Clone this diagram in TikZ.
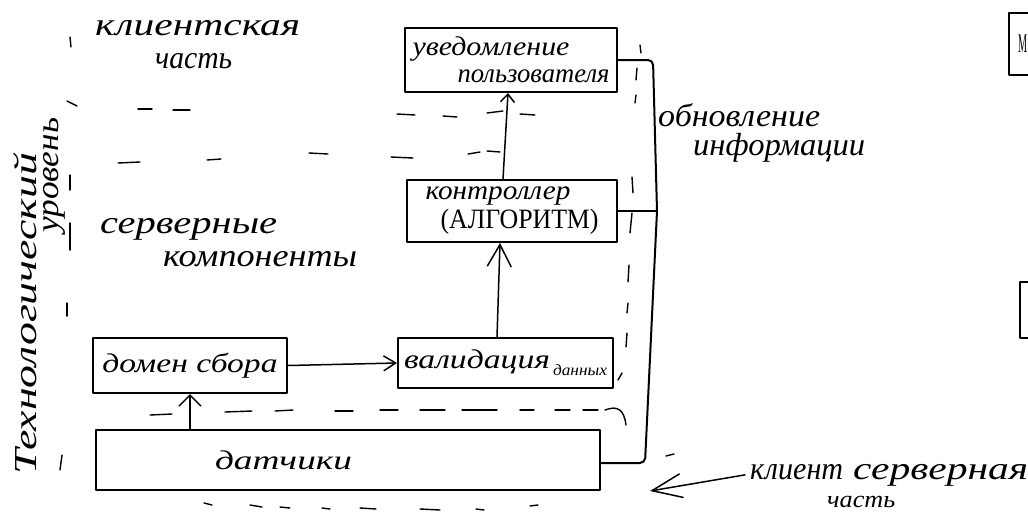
\documentclass[tikz,border=0pt]{standalone}
\usepackage{fontspec}
\setmainfont{Liberation Serif}
\usepackage{graphicx}
\usetikzlibrary{arrows.meta}
% stretch a word horizontally to a given width, keeping its height
\newcommand\hwtext[2]{\resizebox{#1}{\height}{#2}}
\tikzset{
  ink/.style={line width=1.5pt, line cap=round, line join=round},
  blk/.style={draw, line width=2pt, line join=round, inner sep=0pt,
              font=\itshape\fontsize{27}{27}\selectfont},
  hand/.style={inner sep=0pt, font=\itshape\fontsize{32}{32}\selectfont},
  arr/.style 2 args={ink, -{Straight Barb[length=#1, width=#2]}},
  dsh/.style={ink, line width=1.4pt},
  wire/.style={draw, line width=2pt, line join=round, rounded corners=5pt},
}
\begin{document}
\begin{tikzpicture}[x=1pt, y=-1pt]
\useasboundingbox (0,0) rectangle (1028,515);
\clip (0,0) rectangle (1028,515);

% ---- layer separators (hand-drawn dashes) ----
% client / server boundary
\draw[dsh] (67,101) .. controls (71,103) .. (77,106);
\draw[dsh] (138,109) -- (152,109);
\draw[dsh] (173,110) -- (190,110);
\draw[dsh] (397,114) -- (415,115);
\draw[dsh] (443,116) -- (457,117);
\draw[dsh] (487,113) -- (503,111);
\draw[dsh] (520,114) -- (535,115);
\draw[dsh] (118,163) -- (140,162);
\draw[dsh] (207,160) -- (221,159);
\draw[dsh] (309,153) -- (328,154);
\draw[dsh] (391,157) -- (413,158);
\draw[dsh] (468,154) -- (480,152);
\draw[dsh] (487,151) -- (500,152);
% server / hardware boundary
\draw[dsh] (150,415) -- (172,414);
\draw[dsh] (225,412) -- (252,411);
\draw[dsh] (275,411) -- (293,410);
\draw[dsh] (335,411) -- (353,411);
\draw[dsh] (380,410) -- (398,410);
\draw[dsh] (420,410) -- (445,410);
\draw[dsh] (462,410) -- (497,410);
\draw[dsh] (520,410) -- (534,410);
\draw[dsh] (555,410) -- (570,410);
\draw[dsh] (583,410) -- (598,410);
\draw[dsh] (605,410) .. controls (618,405) and (624,410) .. (626,425);
% bottom edge
\draw[dsh] (204,503) -- (212,505);
\draw[dsh] (250,505) -- (262,507);
\draw[dsh] (280,507) -- (290,508);
\draw[dsh] (322,508) -- (330,509);
\draw[dsh] (360,508) -- (376,509);
\draw[dsh] (420,509) -- (440,510);
\draw[dsh] (476,509) -- (484,510);
\draw[dsh] (530,506) -- (538,505);
% left edge
\draw[dsh] (70,37) -- (71,47);
\draw[dsh] (70,175) -- (70,190);
\draw[dsh] (70,223) -- (70,250);
\draw[dsh] (67,303) -- (67,316);
\draw[dsh] (62,455) -- (60,470);
% right edge
\draw[dsh] (640,45) -- (641,53);
\draw[dsh] (637,68) -- (636,80);
\draw[dsh] (636,95) -- (635,103);
\draw[dsh] (632,177) -- (633,193);
\draw[dsh] (632,213) -- (630,233);
\draw[dsh] (629,265) -- (628,282);
\draw[dsh] (628,303) -- (627,313);
\draw[dsh] (627,333) -- (626,347);
\draw[dsh] (622,373) -- (618,380);
\draw[dsh] (666,456) -- (674,454);

% ---- components ----
\node[blk, minimum width=212pt, minimum height=64pt, align=left] (notify) at (511,60)
  {\hwtext{157pt}{уведомление}\\\hspace*{45pt}\hwtext{152pt}{пользователя}};
\node[blk, minimum width=210pt, minimum height=62pt, align=left] (ctrl) at (512,211)
  {\hwtext{145pt}{контроллер}\\[2pt]\hspace*{15pt}{\upshape\fontsize{28}{28}\selectfont\hwtext{158pt}{(АЛГОРИТМ)}}};
\node[blk, minimum width=215pt, minimum height=50pt] (valid) at (505.5,363)
  {\hwtext{146pt}{валидация}\kern3pt\raisebox{-7pt}{\fontsize{16}{16}\selectfont\hwtext{54pt}{данных}}};
\node[blk, minimum width=194pt, minimum height=55pt] (domain) at (190,365.5)
  {\hwtext{175pt}{домен сбора}};
\node[blk, minimum width=504pt, minimum height=60pt, text width=504pt, align=left] (sensors) at (348,460)
  {\hspace*{119pt}\hwtext{137pt}{датчики}};

% partly visible blocks at the right edge
\node[blk, anchor=north west, minimum width=60pt, minimum height=62pt, text width=60pt, align=left] (mblock) at (1008,12)
  {\hspace*{9pt}{\upshape\hwtext{9pt}{М}}};
\node[blk, anchor=north west, minimum width=60pt, minimum height=56pt] (rblock) at (1019,281) {};

% ---- data flow ----
\draw[arr={8pt}{14pt}] ([xshift=-9pt]ctrl.north) -- ([xshift=-3pt]notify.south);
\draw[arr={22pt}{24pt}] ([xshift=-8.5pt]valid.north) -- ([xshift=-12pt]ctrl.south);
\draw[arr={12pt}{15pt}] (domain.east) -- (valid.west);
\draw[arr={11pt}{22pt}] (sensors.north -| domain.south) -- (domain.south);

% information update bus
\coordinate (busA) at (653,60);
\coordinate (busB) at (657,211);
\coordinate (busC) at (645,463);
\path[wire] (notify.east) -- (busA) -- (busB) -- (busC) -- (sensors.east |- busC);
\path[wire] (ctrl.east) -- (busB);

% ---- labels ----
\node[hand, anchor=base west] (clientA) at (95,35) {\hwtext{205pt}{клиентская}};
\node[hand, anchor=base west] (clientB) at (155,68) {\hwtext{77pt}{часть}};
\node[hand, anchor=base west] (serverA) at (100,233) {\hwtext{177pt}{серверные}};
\node[hand, anchor=base west] (serverB) at (163,266) {\hwtext{194pt}{компоненты}};
\node[hand, anchor=base west] (updA) at (658,126) {\hwtext{162pt}{обновление}};
\node[hand, anchor=base west] (updB) at (693,155) {\hwtext{172pt}{информации}};
\node[hand, rotate=90, anchor=base west] (tech) at (36,475) {\hwtext{322pt}{Технологический}};
\node[hand, rotate=90, anchor=base west] (level) at (58,233) {\hwtext{115pt}{уровень}};
\node[hand, anchor=base west] (csA) at (750,479) {\hwtext{93pt}{клиент}\hspace{10pt}\hwtext{175pt}{серверная}};
\node[hand, anchor=base west, font=\itshape\fontsize{24}{24}\selectfont] (csB) at (827,507) {\hwtext{68pt}{часть}};

\coordinate (csTip) at (650,491);
\draw[arr={30pt}{24pt}] ([xshift=-5pt]csA.west) -- (csTip);
\end{tikzpicture}
\end{document}
